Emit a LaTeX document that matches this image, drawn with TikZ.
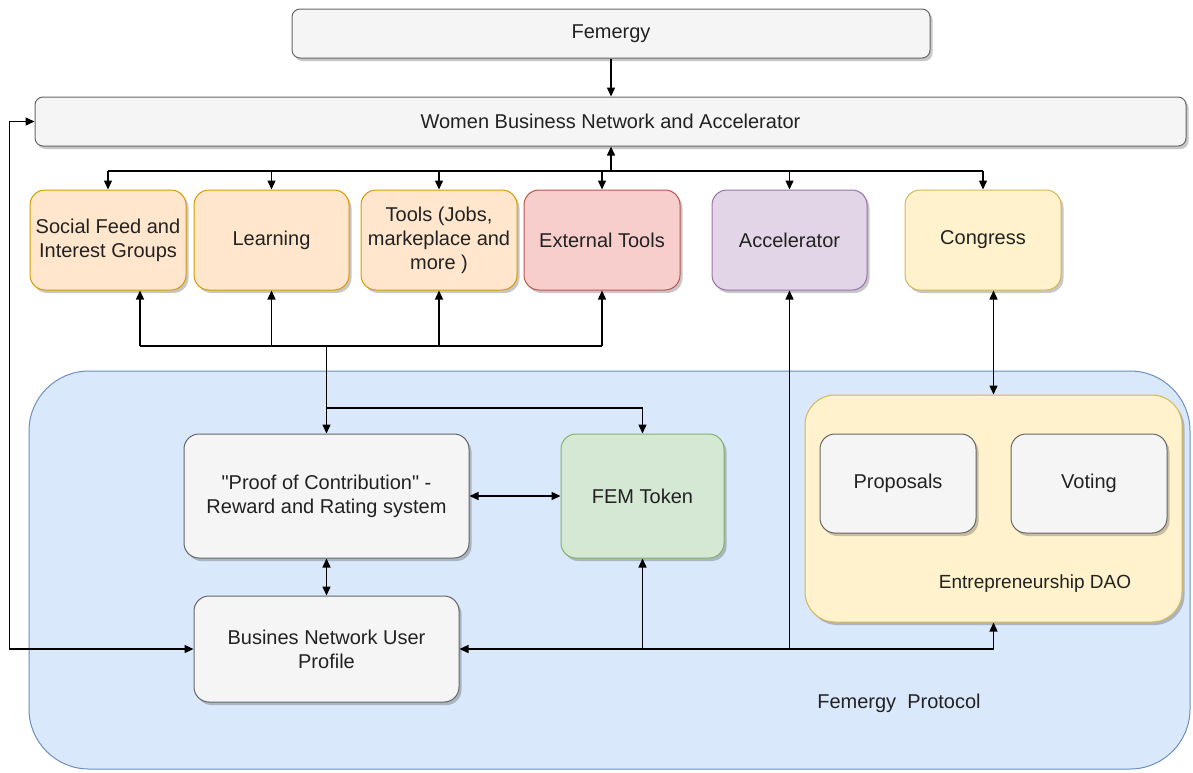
\documentclass[tikz,border=0pt]{standalone}
\usepackage{fontspec}
\setmainfont{Liberation Sans}
\newfontfamily\pq{Liberation Sans}
\usetikzlibrary{arrows.meta,shadows}
\definecolor{gfill}{HTML}{F5F5F5}\definecolor{gline}{HTML}{666666}
\definecolor{ofill}{HTML}{FFE6CC}\definecolor{oline}{HTML}{D79B00}
\definecolor{rfill}{HTML}{F8CECC}\definecolor{rline}{HTML}{B85450}
\definecolor{pfill}{HTML}{E1D5E7}\definecolor{pline}{HTML}{9673A6}
\definecolor{yfill}{HTML}{FFF2CC}\definecolor{yline}{HTML}{D6B656}
\definecolor{grfill}{HTML}{D5E8D4}\definecolor{grline}{HTML}{82B366}
\definecolor{bfill}{HTML}{DAE8FC}\definecolor{bline}{HTML}{6C8EBF}
\definecolor{txt}{HTML}{222222}
\begin{document}
\begin{tikzpicture}[x=1pt,y=-1pt,
  base/.style={draw, line width=1pt, rounded corners=#1, align=center, text=txt,
    font=\fontsize{20}{24}\selectfont, inner sep=2pt,
    drop shadow={shadow xshift=2.5pt, shadow yshift=-3pt, fill=black, opacity=0.22}},
  base/.default=15pt,
  graybox/.style={base=#1, fill=gfill, draw=gline},
  graybox/.default=15pt,
  orangebox/.style={base, fill=ofill, draw=oline},
  redbox/.style={base, fill=rfill, draw=rline},
  purplebox/.style={base, fill=pfill, draw=pline},
  yellowbox/.style={base=#1, fill=yfill, draw=yline},
  yellowbox/.default=15pt,
  greenbox/.style={base, fill=grfill, draw=grline},
  lbl/.style={text=txt, inner sep=0pt},
  arr/.style={-{Triangle[length=9pt,width=8pt]}, line width=1.4pt},
  darr/.style={{Triangle[length=9pt,width=8pt]}-{Triangle[length=9pt,width=8pt]}, line width=1.4pt},
  ln/.style={line width=1.4pt}
]
\useasboundingbox (0,0) rectangle (1193,772);

% protocol background
\node[draw=bline, fill=bfill, line width=1pt, rounded corners=60pt,
      minimum width=1161pt, minimum height=398pt, inner sep=0pt] (proto) at (609.5,570) {};
\node[lbl, font=\fontsize{20}{24}\selectfont] (protolbl) at (899,703) {Femergy\ \ Protocol};

% top
\node[graybox=8pt, minimum width=638pt, minimum height=49pt] (fem) at (611,33.5) {Femergy};
\node[graybox=8pt, minimum width=1151pt, minimum height=49pt] (wbna) at (610.5,121.5) {Women Business Network and Accelerator};

% row of modules
\node[orangebox, minimum width=156pt, minimum height=100pt] (social) at (108,240) {Social Feed and\\Interest Groups};
\node[orangebox, minimum width=155pt, minimum height=100pt] (learn) at (271.5,240) {Learning};
\node[orangebox, minimum width=156pt, minimum height=100pt] (tools) at (439,240) {Tools (Jobs,\\markeplace and\\more )};
\node[redbox, minimum width=156pt, minimum height=100pt] (ext) at (602,240) {External Tools};
\node[purplebox, minimum width=155pt, minimum height=100pt] (acc) at (789.5,240) {Accelerator};
\node[yellowbox, minimum width=156pt, minimum height=100pt] (cong) at (983,240) {Congress};

% protocol contents
\node[graybox, minimum width=285pt, minimum height=124pt] (proof) at (326.5,496) {{\pq"}Proof of Contribution{\pq"} -\\Reward and Rating system};
\node[greenbox, minimum width=163pt, minimum height=124pt] (token) at (642.5,496) {FEM Token};
\node[graybox, minimum width=265pt, minimum height=106pt] (profile) at (326.5,649) {Busines Network User\\Profile};

\node[yellowbox=30pt, minimum width=377pt, minimum height=227pt] (dao) at (993.5,508.5) {};
\node[graybox, minimum width=156pt, minimum height=99pt] (prop) at (898,483.5) {Proposals};
\node[graybox, minimum width=156pt, minimum height=99pt] (vote) at (1089,483.5) {Voting};
\node[lbl, font=\fontsize{19}{22}\selectfont] (daolbl) at (1035,584) {Entrepreneurship DAO};

% coordinates
\coordinate (bus) at (0,171);
\coordinate (lbus) at (0,346);
\coordinate (tbus) at (0,408);
\coordinate (sb) at ([xshift=32pt]social.south);

% Femergy -> WBNA
\draw[arr] (fem.south) -- (fem.south |- wbna.north);
% top bus
\draw[ln] (social.north |- bus) -- (cong.north |- bus);
\draw[arr] (fem.south |- bus) -- (fem.south |- wbna.south);
\foreach \n in {social,learn,tools,ext,acc,cong}
  \draw[arr] (\n.north |- bus) -- (\n.north);

% lower bus
\draw[ln] (sb |- lbus) -- (ext.south |- lbus);
\foreach \n in {sb,learn.south,tools.south,ext.south}
  \draw[arr] (\n |- lbus) -- (\n);
\draw[arr] (proof.north |- lbus) -- (proof.north);
\draw[arr] (proof.north |- tbus) -| (token.north);

% protocol links
\draw[darr] (proof.east) -- (token.west);
\draw[darr] (proof.south) -- (proof.south |- profile.north);
\draw[darr] (wbna.west) -- ++(-25,0) |- (profile.west);
\draw[darr] (profile.east) -| (dao.south);
\draw[arr] (token.south |- profile.east) -- (token.south);
\draw[arr] (acc.south |- profile.east) -- (acc.south);
\draw[darr] (dao.north |- cong.south) -- (dao.north);
\end{tikzpicture}
\end{document}
